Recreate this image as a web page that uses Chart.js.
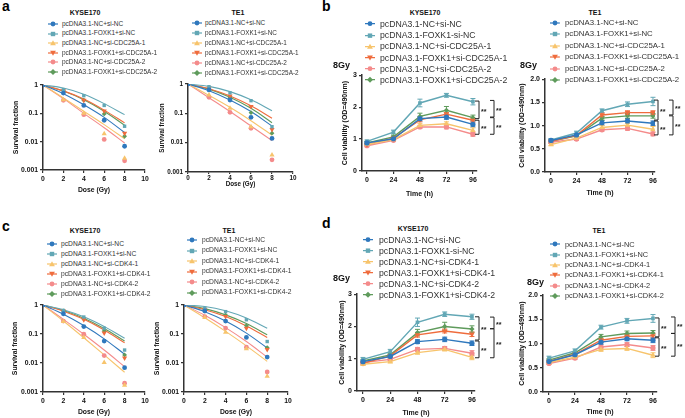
<!DOCTYPE html>
<html lang="en">
<head>
<meta charset="UTF-8">
<title>FOXK1 survival and viability panels</title>
<style>
  body { margin: 0; background: #fff; font-family: "Liberation Sans", Arial, sans-serif; }
  #fig { position: relative; width: 685px; height: 418px; overflow: hidden; background: #fff; }
  #fig canvas { position: absolute; }
  .txt { position: absolute; font-weight: bold; color: #111; white-space: nowrap; line-height: 1; }
  .letter { font-size: 14px; color: #000; }
  .ttl { font-size: 7px; transform: translate(-50%, -50%); }
  .gy { font-size: 9px; transform: translateY(-50%); }
  .leg { position: absolute; display: flex; align-items: center; transform: translateY(-50%); line-height: 1; white-space: nowrap; color: #333; }
  .leg svg { flex: none; }
</style>
<script src="https://cdn.jsdelivr.net/npm/chart.js"></script>
</head>
<body>
<div id="fig"></div>
<script>
// ---- data ----
const groupsCDC25A = ['pcDNA3.1-NC+si-NC', 'pcDNA3.1-FOXK1+si-NC', 'pcDNA3.1-NC+si-CDC25A-1',
  'pcDNA3.1-FOXK1+si-CDC25A-1', 'pcDNA3.1-NC+si-CDC25A-2', 'pcDNA3.1-FOXK1+si-CDC25A-2'];
const groupsCDC25Ab = ['pcDNA3.1-NC+si-NC', 'pcDNA3.1-FOXK1-si-NC', 'pcDNA3.1-NC+si-CDC25A-1',
  'pcDNA3.1-FOXK1+si-CDC25A-1', 'pcDNA3.1-NC+si-CDC25A-2', 'pcDNA3.1-FOXK1+si-CDC25A-2'];
const groupsCDK4 = ['pcDNA3.1-NC+si-NC', 'pcDNA3.1-FOXK1+si-NC', 'pcDNA3.1-NC+si-CDK4-1',
  'pcDNA3.1-FOXK1+si-CDK4-1', 'pcDNA3.1-NC+si-CDK4-2', 'pcDNA3.1-FOXK1+si-CDK4-2'];
const groupsCDK4b = ['pcDNA3.1-NC+si-NC', 'pcDNA3.1-FOXK1-si-NC', 'pcDNA3.1-NC+si-CDK4-1',
  'pcDNA3.1-FOXK1+si-CDK4-1', 'pcDNA3.1-NC+si-CDK4-2', 'pcDNA3.1-FOXK1+si-CDK4-2'];

const doses = [0, 2, 4, 6, 8];
const doseTicks = [0, 2, 4, 6, 8, 10];
const survTicks = [0.001, 0.01, 0.1, 1];
const times = [0, 24, 48, 72, 96];
const timeTicks = [0, 24, 48, 72, 96];
const odTicks3 = [0, 1, 2, 3];
const odTicks2 = [0, 0.5, 1, 1.5, 2];

// survival fraction, measured points and fitted curves
const aKyseSurv = [
  [1, 0.52, 0.19, 0.057, 0.0069],
  [1, 0.68, 0.42, 0.19, 0.035],
  [1, 0.30, 0.10, 0.019, 0.0026],
  [1, 0.63, 0.29, 0.12, 0.020],
  [1, 0.29, 0.09, 0.012, 0.0021],
  [1, 0.63, 0.29, 0.095, 0.0155]];
const aKyseFit = [
  [1, 0.49, 0.20, 0.072, 0.021],
  [1, 0.78, 0.47, 0.22, 0.09],
  [1, 0.35, 0.118, 0.040, 0.0126],
  [1, 0.62, 0.32, 0.13, 0.046],
  [1, 0.33, 0.10, 0.031, 0.009],
  [1, 0.61, 0.30, 0.118, 0.038]];
const aTe1Surv = [
  [1, 0.63, 0.285, 0.073, 0.014],
  [1, 0.81, 0.50, 0.27, 0.035],
  [1, 0.42, 0.148, 0.035, 0.0038],
  [1, 0.71, 0.39, 0.17, 0.028],
  [1, 0.35, 0.108, 0.031, 0.0026],
  [1, 0.71, 0.35, 0.105, 0.021]];
const aTe1Fit = [
  [1, 0.59, 0.285, 0.115, 0.037],
  [1, 0.83, 0.55, 0.29, 0.123],
  [1, 0.41, 0.16, 0.056, 0.018],
  [1, 0.69, 0.39, 0.18, 0.068],
  [1, 0.34, 0.115, 0.037, 0.0117],
  [1, 0.67, 0.355, 0.148, 0.048]];
const cKyseSurv = [
  [1, 0.50, 0.18, 0.057, 0.0069],
  [1, 0.65, 0.385, 0.158, 0.028],
  [1, 0.27, 0.075, 0.0105, 0.0017],
  [1, 0.62, 0.31, 0.108, 0.015],
  [1, 0.28, 0.098, 0.018, 0.002],
  [1, 0.62, 0.33, 0.127, 0.019]];
const cKyseFit = [
  [1, 0.48, 0.195, 0.068, 0.02],
  [1, 0.69, 0.39, 0.18, 0.071],
  [1, 0.28, 0.074, 0.019, 0.0048],
  [1, 0.61, 0.32, 0.137, 0.05],
  [1, 0.32, 0.098, 0.028, 0.0075],
  [1, 0.645, 0.35, 0.155, 0.057]];
const cTe1Surv = [
  [1, 0.62, 0.28, 0.076, 0.016],
  [1, 0.77, 0.59, 0.31, 0.055],
  [1, 0.37, 0.115, 0.031, 0.0035],
  [1, 0.71, 0.40, 0.158, 0.029],
  [1, 0.40, 0.16, 0.035, 0.0049],
  [1, 0.71, 0.45, 0.195, 0.034]];
const cTe1Fit = [
  [1, 0.59, 0.28, 0.107, 0.033],
  [1, 0.89, 0.63, 0.355, 0.158],
  [1, 0.363, 0.123, 0.039, 0.0114],
  [1, 0.69, 0.40, 0.19, 0.076],
  [1, 0.44, 0.166, 0.055, 0.016],
  [1, 0.75, 0.457, 0.23, 0.094]];

// cell viability (OD=490nm) after 8Gy, mean and error
const bKyse = [
  [0.88, 1.01, 1.64, 1.69, 1.46],
  [0.93, 1.22, 2.13, 2.37, 2.17],
  [0.83, 0.98, 1.43, 1.48, 1.27],
  [0.83, 1.03, 1.60, 1.78, 1.59],
  [0.79, 0.96, 1.38, 1.38, 1.15],
  [0.88, 1.07, 1.71, 1.90, 1.67]];
const bKyseErr = [
  [0.04, 0.04, 0.07, 0.07, 0.08],
  [0.04, 0.06, 0.12, 0.06, 0.10],
  [0.03, 0.04, 0.06, 0.06, 0.08],
  [0.03, 0.04, 0.06, 0.05, 0.06],
  [0.03, 0.03, 0.05, 0.06, 0.06],
  [0.04, 0.05, 0.10, 0.12, 0.08]];
const bTe1 = [
  [0.68, 0.80, 1.06, 1.10, 1.05],
  [0.69, 0.84, 1.32, 1.46, 1.52],
  [0.59, 0.73, 0.96, 1.01, 0.92],
  [0.66, 0.79, 1.23, 1.28, 1.28],
  [0.64, 0.71, 0.91, 0.94, 0.82],
  [0.66, 0.78, 1.16, 1.21, 1.21]];
const bTe1Err = [
  [0.03, 0.03, 0.05, 0.05, 0.05],
  [0.03, 0.04, 0.04, 0.05, 0.09],
  [0.02, 0.03, 0.04, 0.04, 0.06],
  [0.03, 0.03, 0.04, 0.04, 0.04],
  [0.02, 0.03, 0.03, 0.04, 0.04],
  [0.03, 0.03, 0.04, 0.05, 0.05]];
const dKyse = [
  [0.91, 1.07, 1.53, 1.60, 1.48],
  [0.98, 1.22, 2.13, 2.38, 2.30],
  [0.83, 0.91, 1.19, 1.29, 1.04],
  [0.86, 1.09, 1.74, 1.86, 1.76],
  [0.88, 0.98, 1.29, 1.32, 1.17],
  [0.93, 1.12, 1.81, 2.00, 1.92]];
const dKyseErr = [
  [0.05, 0.05, 0.06, 0.07, 0.07],
  [0.06, 0.07, 0.13, 0.07, 0.08],
  [0.04, 0.04, 0.05, 0.05, 0.07],
  [0.04, 0.05, 0.07, 0.06, 0.07],
  [0.04, 0.04, 0.06, 0.06, 0.08],
  [0.05, 0.05, 0.10, 0.13, 0.10]];
const dTe1 = [
  [0.63, 0.77, 1.03, 1.10, 1.07],
  [0.70, 0.85, 1.34, 1.47, 1.52],
  [0.61, 0.72, 0.88, 0.90, 0.76],
  [0.63, 0.78, 1.07, 1.15, 1.16],
  [0.59, 0.70, 0.93, 0.98, 0.91],
  [0.66, 0.81, 1.14, 1.21, 1.22]];
const dTe1Err = [
  [0.03, 0.03, 0.05, 0.04, 0.05],
  [0.04, 0.04, 0.04, 0.05, 0.08],
  [0.03, 0.03, 0.04, 0.04, 0.05],
  [0.03, 0.03, 0.04, 0.04, 0.05],
  [0.02, 0.03, 0.04, 0.04, 0.05],
  [0.03, 0.03, 0.05, 0.05, 0.05]];

// significance brackets (value ranges): inner pair then outer pair
const bKyseSig = [[2.19, 1.64], [1.59, 1.15], [2.21, 1.69], [1.67, 1.15]];
const bTe1Sig = [[1.55, 1.12], [1.10, 0.80], [1.55, 1.23], [1.21, 0.80]];
const dKyseSig = [[2.30, 1.58], [1.55, 1.03], [2.29, 1.93], [1.93, 1.03]];
const dTe1Sig = [[1.53, 1.14], [1.12, 0.74], [1.55, 1.21], [1.21, 0.74]];

// ---- style ----
const colors = ['#2f78bd', '#62a7b5', '#f7c46c', '#ef6c3d', '#f48b8b', '#5f9b5c'];
const shapes = ['circle', 'rect', 'triangle', 'triangle', 'circle', 'rectRot'];
const rots = [0, 0, 0, 180, 0, 0];
const axisColor = '#333';
const FONT = '"Liberation Sans", Arial, sans-serif';
Chart.defaults.font.family = FONT;

const fig = document.getElementById('fig');

function addText(cls, text, x, y, size) {
  const d = document.createElement('div');
  d.className = 'txt ' + cls;
  d.textContent = text;
  d.style.left = x + 'px';
  d.style.top = y + 'px';
  if (size) d.style.fontSize = size + 'px';
  fig.appendChild(d);
}

function markerSvg(i, w) {
  const c = colors[i];
  let m;
  if (i === 1) m = `<rect x="2.8" y="1.8" width="4.4" height="4.4" fill="${c}"/>`;
  else if (i === 2) m = `<polygon points="5,1.2 7.9,6.2 2.1,6.2" fill="${c}"/>`;
  else if (i === 3) m = `<polygon points="2.1,1.8 7.9,1.8 5,6.8" fill="${c}"/>`;
  else if (i === 5) m = `<polygon points="5,1 8,4 5,7 2,4" fill="${c}"/>`;
  else m = `<circle cx="5" cy="4" r="2.4" fill="${c}"/>`;
  return `<svg width="${w}" height="8"><line x1="0" y1="4" x2="10" y2="4" stroke="${c}" stroke-width="1.2"/>${m}</svg>`;
}

function addLegend(lg, labels) {
  labels.forEach((lab, i) => {
    const row = document.createElement('div');
    row.className = 'leg';
    row.style.left = lg.x + 'px';
    row.style.top = (lg.y0 + i * lg.dy) + 'px';
    row.style.fontSize = lg.fs + 'px';
    row.innerHTML = markerSvg(i, lg.tx - lg.x) + '<span>' + lab + '</span>';
    fig.appendChild(row);
  });
}

function placeCanvas(g) {
  const c = document.createElement('canvas');
  const left = g.l - g.yW, top = g.t - g.padT;
  const w = g.r + g.padR - left, h = g.b + g.xH - top;
  c.width = w; c.height = h;
  c.style.left = left + 'px'; c.style.top = top + 'px';
  c.style.width = w + 'px'; c.style.height = h + 'px';
  fig.appendChild(c);
  return c;
}

function axisX(g, ticks, label) {
  return {
    type: 'linear', min: g.xmin, max: g.xmax,
    afterBuildTicks: s => { s.ticks = ticks.map(v => ({ value: v })); },
    afterFit: s => { s.height = g.xH; },
    ticks: { font: { size: g.tf, weight: 'bold' }, color: '#111', padding: g.tp, maxRotation: 0, autoSkip: false },
    grid: { drawOnChartArea: false, drawTicks: true, tickLength: g.tl, color: axisColor, lineWidth: 1.2 },
    border: { color: axisColor, width: 1.5 },
    title: { display: true, text: label, font: { size: g.tf, weight: 'bold' }, color: '#111', padding: { top: 2, bottom: 1 } }
  };
}

function axisY(g, o) {
  return {
    type: o.type || 'linear', min: o.min, max: o.max,
    afterBuildTicks: s => { s.ticks = o.ticks.map(v => ({ value: v })); },
    afterFit: s => { s.width = g.yW; },
    ticks: { callback: o.fmt, font: { size: g.tf, weight: 'bold' }, color: '#111', padding: 2, autoSkip: false },
    grid: { drawOnChartArea: false, drawTicks: true, tickLength: 3, color: axisColor, lineWidth: 1.2 },
    border: { color: axisColor, width: 1.5 },
    title: { display: true, text: o.title, font: { size: g.tf, weight: 'bold' }, color: '#111', padding: { top: 3, bottom: 0 } }
  };
}

const errorBars = {
  id: 'errorBars',
  beforeDatasetsDraw(chart) {
    const { ctx } = chart;
    const ys = chart.scales.y;
    chart.data.datasets.forEach((ds, i) => {
      if (!ds.errors) return;
      chart.getDatasetMeta(i).data.forEach((pt, j) => {
        const e = ds.errors[j];
        const v = ds.data[j].y;
        const y1 = ys.getPixelForValue(v + e), y2 = ys.getPixelForValue(v - e);
        ctx.save();
        ctx.strokeStyle = ds.borderColor;
        ctx.lineWidth = 1;
        ctx.beginPath();
        ctx.moveTo(pt.x, y1); ctx.lineTo(pt.x, y2);
        ctx.moveTo(pt.x - 2.5, y1); ctx.lineTo(pt.x + 2.5, y1);
        ctx.moveTo(pt.x - 2.5, y2); ctx.lineTo(pt.x + 2.5, y2);
        ctx.stroke();
        ctx.restore();
      });
    });
  }
};

function bracketPlugin(sets, offsets) {
  return {
    id: 'brackets',
    afterDraw(chart) {
      const { ctx, chartArea } = chart;
      const ys = chart.scales.y;
      ctx.save();
      ctx.strokeStyle = '#222';
      ctx.fillStyle = '#222';
      ctx.lineWidth = 1;
      ctx.font = 'bold 7px ' + FONT;
      ctx.textBaseline = 'middle';
      sets.forEach((s, k) => {
        const x = chartArea.right + offsets[k];
        const y1 = ys.getPixelForValue(s[0]), y2 = ys.getPixelForValue(s[1]);
        ctx.beginPath();
        ctx.moveTo(x - 4, y1); ctx.lineTo(x, y1); ctx.lineTo(x, y2); ctx.lineTo(x - 4, y2);
        ctx.stroke();
        ctx.fillText('**', x + 2, (y1 + y2) / 2 + 2);
      });
      ctx.restore();
    }
  };
}

function baseOptions(g) {
  return {
    responsive: false, animation: false, events: [],
    layout: { padding: { top: g.padT, right: g.padR, left: 0, bottom: 0 } },
    plugins: { legend: { display: false }, tooltip: { enabled: false } }
  };
}

function survivalChart(g, pts, fits) {
  const datasets = [];
  pts.forEach((row, i) => datasets.push({
    data: doses.map((d, j) => ({ x: d, y: row[j] })),
    showLine: false, pointStyle: shapes[i], pointRotation: rots[i],
    pointRadius: (i === 2 || i === 3) ? 3 : 2.4, pointBorderWidth: 0,
    pointBackgroundColor: colors[i], borderColor: colors[i], backgroundColor: colors[i]
  }));
  fits.forEach((row, i) => datasets.push({
    data: doses.map((d, j) => ({ x: d, y: row[j] })),
    pointRadius: 0, borderColor: colors[i], borderWidth: 1.1, cubicInterpolationMode: 'monotone'
  }));
  const opts = baseOptions(g);
  opts.scales = {
    x: axisX(g, doseTicks, 'Dose (Gy)'),
    y: axisY(g, { type: 'logarithmic', min: 0.001, max: 1, ticks: survTicks, fmt: v => String(v), title: 'Survival fraction' })
  };
  new Chart(placeCanvas(g), { type: 'line', data: { datasets }, options: opts });
}

function viabilityChart(g, vals, errs, yo, sig, offsets) {
  const datasets = vals.map((row, i) => ({
    data: times.map((t, j) => ({ x: t, y: row[j] })),
    errors: errs[i],
    borderColor: colors[i], backgroundColor: colors[i],
    pointBackgroundColor: colors[i], pointBorderColor: colors[i], pointBorderWidth: 0,
    borderWidth: 1.4, pointStyle: shapes[i], pointRotation: rots[i],
    pointRadius: (i === 2 || i === 3) ? 3.2 : 2.6, tension: 0
  }));
  const opts = baseOptions(g);
  opts.scales = {
    x: axisX(g, timeTicks, 'Time (h)'),
    y: axisY(g, Object.assign({ title: 'Cell viability (OD=490nm)' }, yo))
  };
  new Chart(placeCanvas(g), {
    type: 'line', data: { datasets }, options: opts,
    plugins: [errorBars, bracketPlugin(sig, offsets)]
  });
}

// ---- layout ----
const survBase = { xmin: 0, xmax: 10, padT: 8, padR: 8, tf: 6.8, tp: 2, tl: 3 };
const viaBase = { padT: 6, tf: 7, tp: 2, tl: 3 };
const fmt3 = v => String(v);
const fmt2 = v => v.toFixed(1);

survivalChart(Object.assign({}, survBase, { l: 43, t: 85, r: 145, b: 170, yW: 34, xH: 25 }), aKyseSurv, aKyseFit);
survivalChart(Object.assign({}, survBase, { l: 188, t: 84, r: 293, b: 172, yW: 33, xH: 17, tf: 6.3, tp: 0, tl: 2 }), aTe1Surv, aTe1Fit);
survivalChart(Object.assign({}, survBase, { l: 43, t: 305, r: 145, b: 392, yW: 35, xH: 25 }), cKyseSurv, cKyseFit);
survivalChart(Object.assign({}, survBase, { l: 184, t: 305, r: 288, b: 392, yW: 34, xH: 25 }), cTe1Surv, cTe1Fit);

viabilityChart(Object.assign({}, viaBase, { l: 362, t: 75, r: 477, b: 171, yW: 24, xH: 28, padR: 27, xmin: -4.5, xmax: 99.7 }),
  bKyse, bKyseErr, { min: 0, max: 3, ticks: odTicks3, fmt: fmt3 }, bKyseSig, [2, 2, 17, 17]);
viabilityChart(Object.assign({}, viaBase, { l: 545, t: 79, r: 655, b: 172, yW: 30, xH: 26, padR: 30, xmin: -5.65, xmax: 97.9 }),
  bTe1, bTe1Err, { min: 0, max: 2, ticks: odTicks2, fmt: fmt2 }, bTe1Sig, [3, 3, 18, 18]);
viabilityChart(Object.assign({}, viaBase, { l: 357, t: 294, r: 475, b: 391, yW: 22, xH: 27, padR: 30, xmin: -5.3, xmax: 98.7 }),
  dKyse, dKyseErr, { min: 0, max: 3, ticks: odTicks3, fmt: fmt3 }, dKyseSig, [4, 4, 19, 19]);
viabilityChart(Object.assign({}, viaBase, { l: 543, t: 295, r: 657, b: 392, yW: 28, xH: 25, padR: 28, xmin: -5.54, xmax: 99.7 }),
  dTe1, dTe1Err, { min: 0, max: 2, ticks: odTicks2, fmt: fmt2 }, dTe1Sig, [2, 2, 18, 18]);

// panel letters, titles, radiation dose labels
addText('letter', 'a', 2, -1);
addText('letter', 'b', 322, -1);
addText('letter', 'c', 2, 219);
addText('letter', 'd', 322, 216);
addText('ttl', 'KYSE170', 85, 12);
addText('ttl', 'TE1', 238, 12);
addText('ttl', 'KYSE170', 425, 12);
addText('ttl', 'TE1', 595, 12);
addText('ttl', 'KYSE170', 85, 230);
addText('ttl', 'TE1', 229, 230);
addText('ttl', 'KYSE170', 413, 228);
addText('ttl', 'TE1', 599, 230);
addText('gy', '8Gy', 333, 65);
addText('gy', '8Gy', 520, 65);
addText('gy', '8Gy', 333, 278);
addText('gy', '8Gy', 527, 282);

addLegend({ x: 48, tx: 62, y0: 24, dy: 9.6, fs: 6.5 }, groupsCDC25A);
addLegend({ x: 192, tx: 205, y0: 23.3, dy: 9.9, fs: 6.4 }, groupsCDC25A);
addLegend({ x: 365, tx: 380, y0: 24, dy: 11.2, fs: 8.7 }, groupsCDC25Ab);
addLegend({ x: 550, tx: 565, y0: 22.7, dy: 11.5, fs: 7.8 }, groupsCDC25A);
addLegend({ x: 47, tx: 61, y0: 244.3, dy: 10, fs: 6.7 }, groupsCDK4);
addLegend({ x: 187, tx: 202, y0: 240, dy: 10.5, fs: 6.7 }, groupsCDK4);
addLegend({ x: 363, tx: 379, y0: 240, dy: 10.9, fs: 8.7 }, groupsCDK4b);
addLegend({ x: 550, tx: 565, y0: 244.3, dy: 10.3, fs: 7.4 }, groupsCDK4);
</script>
</body>
</html>
